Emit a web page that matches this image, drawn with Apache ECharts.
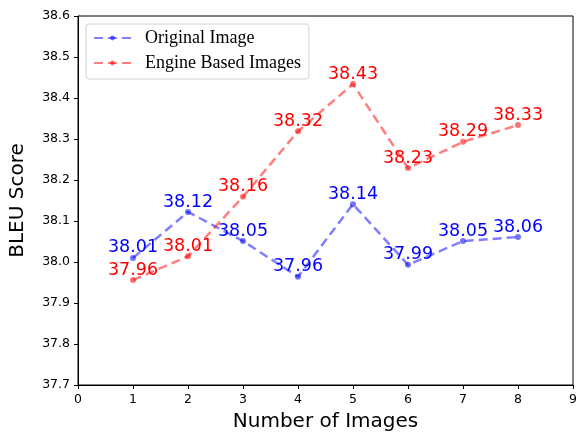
<!DOCTYPE html>
<html><head><meta charset="utf-8">
<script src="https://cdn.jsdelivr.net/npm/echarts@6/dist/echarts.min.js"></script>
<style>html,body{margin:0;padding:0;background:#fff}#c{width:576px;height:433px}</style>
</head><body><div id="c"></div>
<script>
const xValues = [1, 2, 3, 4, 5, 6, 7, 8];
const originalScores = [38.010, 38.122, 38.051, 37.964, 38.141, 37.993, 38.051, 38.061];
const engineScores = [37.956, 38.014, 38.159, 38.319, 38.434, 38.229, 38.293, 38.334];
const xTicks = [0, 1, 2, 3, 4, 5, 6, 7, 8, 9];
const yTicks = [37.7, 37.8, 37.9, 38.0, 38.1, 38.2, 38.3, 38.4, 38.5, 38.6];

const chart = echarts.init(document.getElementById('c'), null, {renderer: 'canvas'});
function mk(name, vals, col, lineCol) {
  return {
    name: name, type: 'line',
    data: xValues.map((x, i) => [x, vals[i]]),
    symbol: 'circle', symbolSize: 6,
    itemStyle: {color: col, opacity: 0.55},
    lineStyle: {color: lineCol, width: 2.5, type: [9, 5], opacity: 0.5},
    label: {
      show: true, position: 'top', distance: -2,
      formatter: p => p.value[1].toFixed(2),
      color: col, fontFamily: 'DejaVu Sans', fontSize: 17.5,
      opacity: 1
    },
    emphasis: {disabled: true},
    z: 3
  };
}
chart.setOption({
  animation: false,
  grid: {left: 78, right: 3, top: 16, bottom: 48, outerBoundsMode: 'none', containLabel: false, show: true, borderColor: '#000', borderWidth: 1, backgroundColor: 'transparent'},
  legend: {
    orient: 'vertical', left: 86, top: 24,
    padding: [5, 8, 7, 7],
    backgroundColor: '#fff', borderColor: '#d0d0d0', borderWidth: 1, borderRadius: 3,
    itemWidth: 37, itemHeight: 6, itemGap: 7,
    textStyle: {fontFamily: 'Liberation Serif', fontSize: 18, color: '#000', padding: [0, 0, 0, 9], lineHeight: 18},
    data: ['Original Image', 'Engine Based Images']
  },
  xAxis: {
    type: 'value', min: 0, max: 9, interval: 1,
    name: 'Number of Images', nameLocation: 'middle', nameGap: 27,
    nameTextStyle: {fontFamily: 'DejaVu Sans', fontSize: 20, color: '#000'},
    axisLine: {show: true, onZero: false, lineStyle: {color: '#000', width: 1}},
    axisTick: {show: true, inside: false, length: 4, lineStyle: {color: '#000'}},
    axisLabel: {fontFamily: 'DejaVu Sans', fontSize: 12.5, color: '#000', margin: 8, formatter: v => String(v)},
    splitLine: {show: false}
  },
  yAxis: {
    type: 'value', min: 37.7, max: 38.6, interval: 0.1,
    name: 'BLEU Score', nameLocation: 'middle', nameGap: 50,
    nameTextStyle: {fontFamily: 'DejaVu Sans', fontSize: 20, color: '#000'},
    axisLine: {show: true, onZero: false, lineStyle: {color: '#000', width: 1}},
    axisTick: {show: true, inside: false, length: 4, lineStyle: {color: '#000'}},
    axisLabel: {fontFamily: 'DejaVu Sans', fontSize: 12.5, color: '#000', margin: 8, formatter: v => v.toFixed(1)},
    splitLine: {show: false}
  },
  series: [
    mk('Original Image', originalScores, '#0000ff', '#0000ff'),
    mk('Engine Based Images', engineScores, '#ff0000', '#ff0000')
  ]
});
</script></body></html>
